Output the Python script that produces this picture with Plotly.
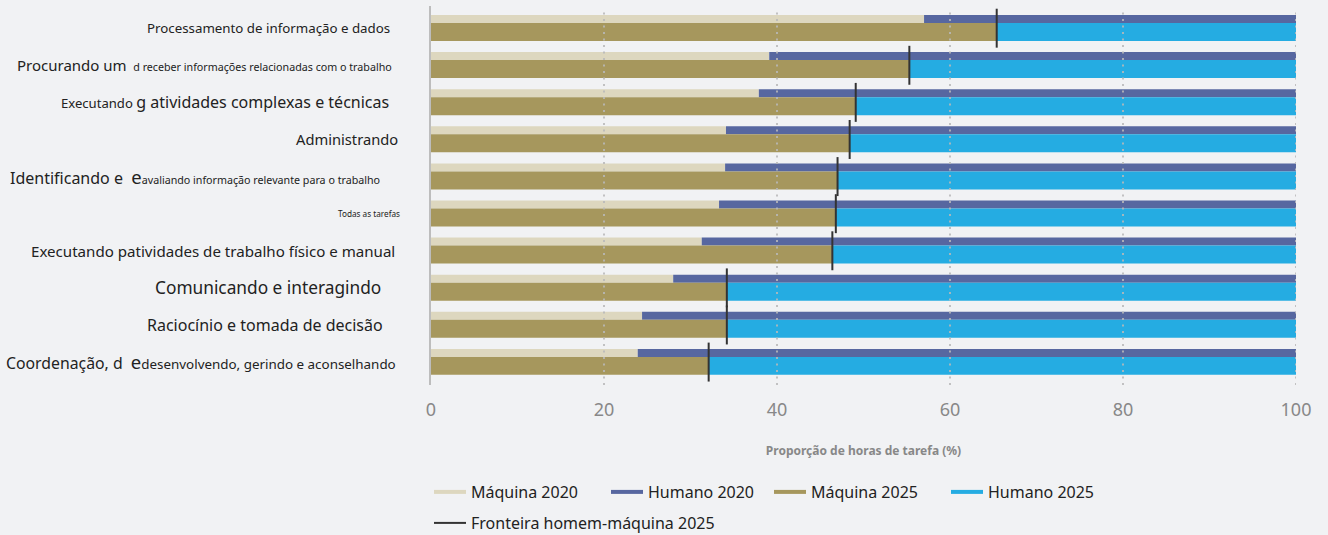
import plotly.graph_objects as go

# Task categories (top to bottom) split into text runs
task_labels = [
    ["Processamento de informação e dados"],
    ["Procurando um\u00a0", "\u00a0d receber informações relacionadas com o trabalho"],
    ["Executando\u00a0", "g atividades complexas e técnicas"],
    ["Administrando"],
    ["Identificando e\u00a0\u00a0", "e", "avaliando informação relevante para o trabalho"],
    ["Todas as tarefas"],
    ["Executando p", "atividades de trabalho físico e manual"],
    ["Comunicando e interagindo"],
    ["Raciocínio e tomada de decisão"],
    ["Coordenação, d\u00a0\u00a0", "e", "desenvolvendo, gerindo e aconselhando"],
]

# Share of task hours (%)
machine_2020 = [57.0, 39.1, 37.9, 34.1, 34.0, 33.3, 31.3, 28.0, 24.4, 23.9]
human_2020 = [43.0, 60.9, 62.1, 65.9, 66.0, 66.7, 68.7, 72.0, 75.6, 76.1]
machine_2025 = [65.4, 55.3, 49.1, 48.4, 47.0, 46.8, 46.4, 34.2, 34.2, 32.1]
human_2025 = [34.6, 44.7, 50.9, 51.6, 53.0, 53.2, 53.6, 65.8, 65.8, 67.9]

x_ticks = [0, 20, 40, 60, 80, 100]

# Styling
label_sizes = [
    [13.3],
    [15, 10.7],
    [13.1, 16],
    [14.7],
    [16, 18.5, 10.7],
    [8.2],
    [15.1, 15.1],
    [17.3],
    [16],
    [15.8, 18.5, 13.4],
]
label_right_px = [389, 391, 388, 397, 379, 399, 394, 380, 382, 395]
LABEL_PAD = 3

BG = "#F1F2F4"
C_M20 = "#DDD7BF"
C_H20 = "#5767A0"
C_M25 = "#A6975D"
C_H25 = "#25ACE2"
C_FRONT = "#333333"

PLOT_L, PLOT_R = 431, 1296
PLOT_T, PLOT_B = 6, 385
W20, OFF20 = 0.216, -0.350
W25, OFF25 = 0.485, -0.135

rows = list(range(len(task_labels)))

fig = go.Figure()

fig.add_bar(y=rows, x=machine_2020, base=0, orientation="h", width=W20, offset=OFF20,
            marker=dict(color=C_M20, line=dict(width=0)), name="Máquina 2020", showlegend=False)
fig.add_bar(y=rows, x=human_2020, base=machine_2020, orientation="h", width=W20, offset=OFF20,
            marker=dict(color=C_H20, line=dict(width=0)), name="Humano 2020", showlegend=False)
fig.add_bar(y=rows, x=machine_2025, base=0, orientation="h", width=W25, offset=OFF25,
            marker=dict(color=C_M25, line=dict(width=0)), name="Máquina 2025", showlegend=False)
fig.add_bar(y=rows, x=human_2025, base=machine_2025, orientation="h", width=W25, offset=OFF25,
            marker=dict(color=C_H25, line=dict(width=0)), name="Humano 2025", showlegend=False)

# Human-machine frontier 2025: a short vertical tick per row
fx, fy = [], []
for i, v in zip(rows, machine_2025):
    fx += [v, v, None]
    fy += [i - 0.52, i + 0.53, None]

# Dotted gridlines drawn over the bars
for v in x_ticks[1:]:
    fig.add_shape(type="line", xref="x", yref="paper", x0=v, x1=v, y0=0, y1=0.99,
                  line=dict(color="rgba(185,185,185,0.85)", width=2, dash="2px,4.5px"),
                  layer="above")

fig.add_scatter(x=fx, y=fy, mode="lines", line=dict(color=C_FRONT, width=2),
                name="Fronteira homem-máquina 2025", legend="legend2", hoverinfo="skip")

# Legend entries drawn as thick rounded strokes
legend_entries = [("Máquina 2020", C_M20, 130), ("Humano 2020", C_H20, 116),
                  ("Máquina 2025", C_M25, 130), ("Humano 2025", C_H25, 0)]
for name, col, lw in legend_entries:
    fig.add_scatter(x=[None], y=[None], mode="lines", name=name,
                    line=dict(color=col, width=4), legend="legend",
                    legendwidth=lw if lw else None)

# Category labels with mixed text sizes
for i, (parts, sizes, rpx) in enumerate(zip(task_labels, label_sizes, label_right_px)):
    txt = "".join(f'<span style="font-size:{s}px">{p}</span>' for p, s in zip(parts, sizes))
    fig.add_annotation(text=txt, xref="paper", yref="y",
                       x=(rpx + LABEL_PAD - PLOT_L) / (PLOT_R - PLOT_L), y=i,
                       xanchor="right", yanchor="middle", showarrow=False,
                       font=dict(family="Noto Sans", size=14, color="#222222"))


def px_to_paper_y(p):
    return (PLOT_B - p) / (PLOT_B - PLOT_T)


legend_x = (429 - PLOT_L) / (PLOT_R - PLOT_L)
fig.update_layout(
    width=1328, height=535,
    margin=dict(l=PLOT_L, r=1328 - PLOT_R, t=PLOT_T, b=535 - PLOT_B, autoexpand=False),
    paper_bgcolor=BG, plot_bgcolor=BG,
    barmode="overlay",
    font=dict(family="Noto Sans", color="#222222"),
    xaxis=dict(range=[0, 100], tickvals=x_ticks, showgrid=False, zeroline=False,
               ticks="outside", ticklen=8, tickcolor="rgba(0,0,0,0)",
               tickfont=dict(size=18, color="#888888"),
               title=dict(text="<b>Proporção de horas de tarefa (%)</b>",
                          font=dict(size=12, color="#888888"), standoff=27)),
    yaxis=dict(range=[9.623, -0.593], showticklabels=False, showgrid=False, zeroline=False,
               showline=True, linecolor="#BDBDBD", linewidth=2),
    legend=dict(orientation="h", x=legend_x, xanchor="left", itemwidth=32,
                y=px_to_paper_y(475), yanchor="top",
                font=dict(size=16, color="#222222"), bgcolor="rgba(0,0,0,0)"),
    legend2=dict(orientation="h", x=legend_x, xanchor="left", itemwidth=32,
                 y=px_to_paper_y(506), yanchor="top",
                 font=dict(size=16, color="#222222"), bgcolor="rgba(0,0,0,0)"),
)

fig.write_html("out.html")
